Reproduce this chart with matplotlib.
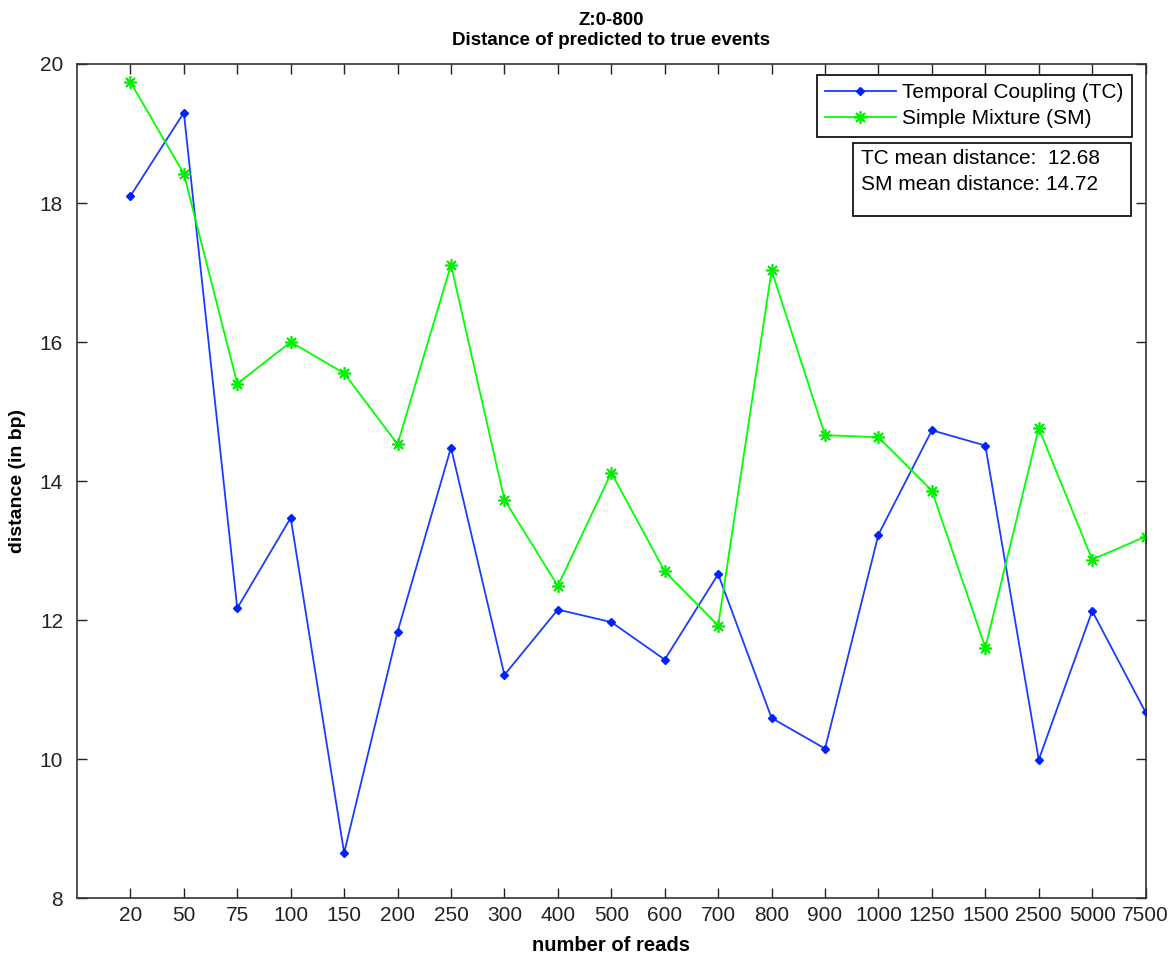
import numpy as np
import matplotlib
matplotlib.use("Agg")
import matplotlib.pyplot as plt
from matplotlib.patches import Rectangle

plt.rcParams['font.family'] = ['Liberation Sans', 'DejaVu Sans']

reads = ['20', '50', '75', '100', '150', '200', '250', '300', '400', '500',
         '600', '700', '800', '900', '1000', '1250', '1500', '2500', '5000', '7500']

# distance of predicted to true events (bp)
tc_dist = [18.10, 19.30, 12.17, 13.47, 8.65, 11.83, 14.48, 11.21, 12.15, 11.97,
           11.43, 12.66, 10.59, 10.15, 13.23, 14.73, 14.51, 9.99, 12.13, 10.67]
sm_dist = [19.74, 18.42, 15.40, 16.00, 15.55, 14.53, 17.11, 13.73, 12.49, 14.12,
           12.70, 11.92, 17.03, 14.66, 14.63, 13.86, 11.60, 14.76, 12.87, 13.20]

tc_mean = "12.68"
sm_mean = "14.72"

x = np.arange(1, len(reads) + 1)

fig = plt.figure(figsize=(11.75, 9.58), dpi=100)
ax = fig.add_axes([0.0655, 0.0626, 0.9095, 0.8706])

ax.plot(x, tc_dist, color='#1a3cff', lw=1.3, marker='D', ms=4,
        mfc='#0022ff', mec='#0022ff', label='Temporal Coupling (TC)')
ax.plot(x, sm_dist, color='#00ff00', lw=1.3, marker=(8, 2, 0), ms=9,
        mew=1.2, mec='#00ee00', label='Simple Mixture (SM)')

ax.set_xlim(0, 20)
ax.set_ylim(8, 20)
ax.set_xticks(x)
ax.set_xticklabels(reads)
ax.set_yticks(np.arange(8, 21, 2))
ax.tick_params(direction='in', top=True, right=True, length=7, width=1,
               labelsize=15, colors='#222222')
ax.tick_params(axis='y', pad=10)
ax.tick_params(axis='x', pad=6)
for s in ax.spines.values():
    s.set_linewidth(1.2)
    s.set_color('#333333')

ax.set_xlabel('number of reads', fontsize=14.5, fontweight='bold', labelpad=8)
ax.set_ylabel('distance (in bp)', fontsize=14, fontweight='bold', labelpad=10)
ax.set_title('Z:0-800\nDistance of predicted to true events', fontsize=13.5,
             fontweight='bold', pad=14, linespacing=1.2)

leg = ax.legend(loc='upper right', bbox_to_anchor=(0.987, 0.987), fontsize=15,
                fancybox=False, edgecolor='black', framealpha=1, handlelength=3.4,
                handletextpad=0.3, borderpad=0.4, labelspacing=0.35, borderaxespad=0)
leg.get_frame().set_linewidth(1.2)

ax.add_patch(Rectangle((0.726, 0.818), 0.26, 0.087, transform=ax.transAxes,
                       fill=False, ec='black', lw=1.2, zorder=5))
ax.text(0.734, 0.887, 'TC mean distance:  ' + tc_mean, transform=ax.transAxes,
        fontsize=15, va='center', ha='left')
ax.text(0.734, 0.856, 'SM mean distance: ' + sm_mean, transform=ax.transAxes,
        fontsize=15, va='center', ha='left')

fig.savefig('out.png', dpi=100, facecolor='white')
